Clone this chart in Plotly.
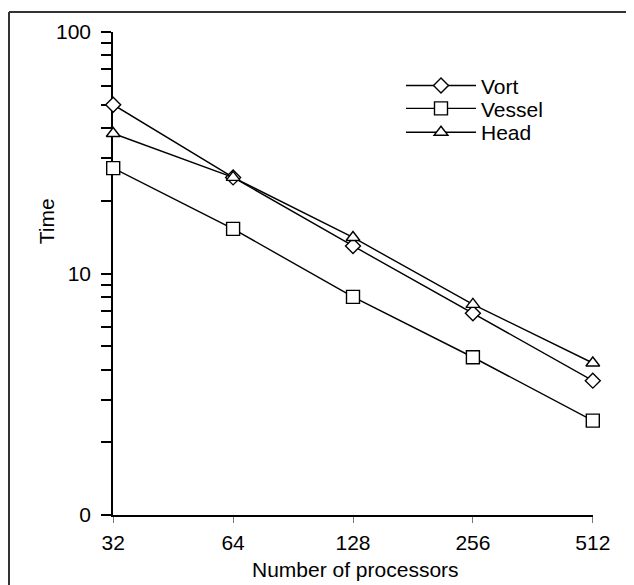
import plotly.graph_objects as go
import math

processors = [32, 64, 128, 256, 512]
vort = [50, 25, 13.0, 6.85, 3.6]
vessel = [27.3, 15.3, 8.0, 4.5, 2.46]
head = [38, 25, 14.1, 7.45, 4.26]
y_tickvals = [1, 10, 100]
y_ticktext = ["0", "10", "100"]
y_minor = [2, 3, 4, 5, 6, 7, 8, 9, 20, 30, 40, 50, 60, 70, 80, 90]

# page body has an 8px margin; figure coordinates are page coordinates minus 8
W, H = 626, 577
L, R, T, B = 105, 41, 22, 70
pw, ph = W - L - R, H - T - B

def px2paper_x(px):
    return (px - L) / pw

def px2paper_y(py):
    return (H - B - py) / ph

font = "Liberation Sans, Arial, Helvetica, sans-serif"
FS = 21

fig = go.Figure()
series = [("Vort", vort, "diamond", 11.5, "legend", 76),
          ("Vessel", vessel, "square", 13, "legend2", 99),
          ("Head", head, "triangle-up", 12, "legend3", 123)]
legends = {}
for name, vals, sym, sz, lg, ly in series:
    fig.add_trace(go.Scatter(
        x=processors, y=vals, name=name, mode="lines+markers",
        line=dict(color="black", width=1.4),
        marker=dict(symbol=sym, size=sz, color="white", line=dict(color="black", width=1.4)),
        cliponaxis=False, legend=lg,
    ))
    legends[lg] = dict(x=px2paper_x(393), y=px2paper_y(ly), xanchor="left", yanchor="middle",
                       bgcolor="rgba(0,0,0,0)", font=dict(size=FS), itemwidth=70)

lo = math.log10(32) - 0.0005
hi = math.log10(512) + 0.0005
fig.update_layout(
    width=W, height=H,
    margin=dict(l=L, r=R, t=T, b=B),
    plot_bgcolor="white", paper_bgcolor="white",
    font=dict(family=font, size=FS, color="black"),
    showlegend=True,
    legend=legends["legend"], legend2=legends["legend2"], legend3=legends["legend3"],
    xaxis=dict(type="log", range=[lo, hi],
               tickvals=processors, ticktext=[str(p) for p in processors],
               showgrid=False, zeroline=False, showline=True, linecolor="black", linewidth=1.5,
               ticks="outside", ticklen=6, tickcolor="#777", tickwidth=1,
               tickfont=dict(size=FS), ticklabelstandoff=2, layer="below traces"),
    yaxis=dict(type="log", range=[0, 2], tickvals=y_tickvals, ticktext=y_ticktext,
               showgrid=False, zeroline=False, showline=True, linecolor="black", linewidth=1.5,
               ticks="outside", ticklen=10, tickcolor="black", tickwidth=1.5,
               tickfont=dict(size=FS), ticklabelstandoff=6, layer="below traces",
               minor=dict(ticks="outside", ticklen=10, tickvals=y_minor, tickcolor="black", tickwidth=1.5)),
    annotations=[
        dict(text="Time", x=px2paper_x(38), y=px2paper_y(212), xref="paper", yref="paper",
             textangle=-90, showarrow=False, font=dict(size=FS), xanchor="center", yanchor="middle"),
        dict(text="Number of processors", x=px2paper_x(347), y=px2paper_y(562), xref="paper", yref="paper",
             showarrow=False, font=dict(size=FS), xanchor="center", yanchor="middle"),
    ],
    shapes=[
        dict(type="line", xref="paper", yref="paper", x0=px2paper_x(1), x1=px2paper_x(W + 5),
             y0=px2paper_y(2), y1=px2paper_y(2), line=dict(color="#333", width=2)),
        dict(type="line", xref="paper", yref="paper", x0=px2paper_x(1), x1=px2paper_x(1),
             y0=px2paper_y(2), y1=px2paper_y(H + 5), line=dict(color="#333", width=2)),
    ],
)

fig.write_html("out.html")
